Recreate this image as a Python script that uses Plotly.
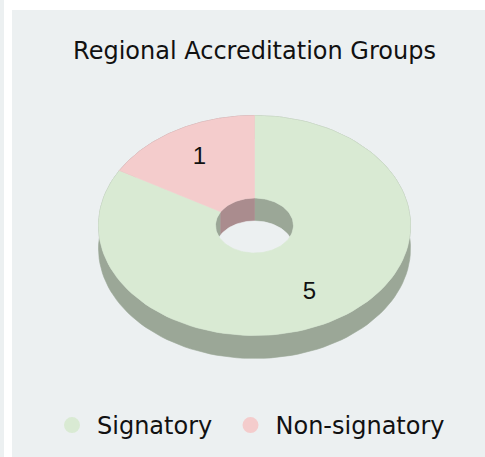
import numpy as np
import plotly.graph_objects as go

# ---- data ----
categories = ["Signatory", "Non-signatory"]
counts = [5, 1]
chart_title = "Regional Accreditation Groups"

# ---- style / layout constants ----
top_colors = ["#D9EAD3", "#F4CCCC"]
side_colors = ["#9BA797", "#AA8C8E"]
BG = "#ECF0F1"
W, H = 485, 457
CX, CY = 254.5, 225.5      # centre of donut top face (px)
RX, RY = 156.0, 110.0      # outer semi-axes (px)
INNER = 0.25               # inner radius fraction
DEPTH = 23.0               # 3D depth (px)
LABEL_R = 0.705            # data-label radius fraction
FONT = "DejaVu Sans, Arial, sans-serif"
LEGEND_X = [47.0, 225.5]   # left edge of each legend entry (px)


def arc(t1, t2, rx, ry, dy=0.0, n=120):
    t = np.radians(np.linspace(t1, t2, n))
    return CX + rx * np.sin(t), CY - ry * np.cos(t) + dy


def band(t1, t2, rx, ry):
    xa, ya = arc(t1, t2, rx, ry)
    xb, yb = arc(t2, t1, rx, ry, DEPTH)
    return np.r_[xa, xb, xa[:1]], np.r_[ya, yb, ya[:1]]


def ring_sector(t1, t2):
    xa, ya = arc(t1, t2, RX, RY)
    xb, yb = arc(t2, t1, RX * INNER, RY * INNER)
    return np.r_[xa, xb, xa[:1]], np.r_[ya, yb, ya[:1]]


total = float(sum(counts))
ends = np.cumsum(counts) / total * 360.0
starts = np.r_[0.0, ends[:-1]]

fig = go.Figure()


def poly(x, y, color):
    fig.add_trace(go.Scatter(
        x=x, y=y, mode="lines", fill="toself", fillcolor=color,
        line=dict(color=color, width=0.6), hoverinfo="skip", showlegend=False))


# outer side walls
for s, e, c in zip(starts, ends, side_colors):
    poly(*band(s, e, RX, RY), c)
# inner walls
for s, e, c in zip(starts, ends, side_colors):
    poly(*band(s, e, RX * INNER, RY * INNER), c)
# hole floor (background seen through)
fx, fy = arc(0, 360, RX * INNER, RY * INNER, DEPTH, 200)
poly(fx, fy, BG)
# top faces
for s, e, c in zip(starts, ends, top_colors):
    poly(*ring_sector(s, e), c)

# data labels
mids = np.radians((starts + ends) / 2.0)
fig.add_trace(go.Scatter(
    x=CX + RX * LABEL_R * np.sin(mids),
    y=CY - RY * LABEL_R * np.cos(mids),
    mode="text", text=[str(v) for v in counts],
    textfont=dict(family="Arial, sans-serif", size=24, color="#111111"),
    hoverinfo="skip", showlegend=False))

# legend entries (one legend per entry so spacing can be matched)
legend_ids = ["legend", "legend2"]
for name, c, lid in zip(categories, top_colors, legend_ids):
    fig.add_trace(go.Scatter(
        x=[None], y=[None], mode="markers", name=name, legend=lid,
        marker=dict(symbol="circle", size=21, color=c)))

legend_style = dict(orientation="h", xanchor="left",
                    y=1 - 425.5 / H, yanchor="middle",
                    font=dict(family=FONT, size=24, color="#111111"),
                    itemsizing="trace", itemwidth=40,
                    bgcolor="rgba(0,0,0,0)")

fig.update_layout(
    width=W, height=H,
    margin=dict(l=0, r=0, t=0, b=0),
    paper_bgcolor=BG, plot_bgcolor="rgba(0,0,0,0)",
    xaxis=dict(range=[0, W], visible=False, fixedrange=True),
    yaxis=dict(range=[H, 0], visible=False, fixedrange=True),
    title=dict(text=chart_title, x=CX / W, xanchor="center",
               y=1 - 50.5 / H, yanchor="middle",
               font=dict(family=FONT, size=24, color="#111111")),
    legend=dict(x=LEGEND_X[0] / W, **legend_style),
    legend2=dict(x=LEGEND_X[1] / W, **legend_style),
    shapes=[
        # white page frame around the grey panel
        dict(type="rect", xref="paper", yref="paper",
             x0=4.0 / W, x1=12.0 / W, y0=0, y1=1,
             fillcolor="white", line=dict(width=0), layer="below"),
        dict(type="rect", xref="paper", yref="paper",
             x0=4.0 / W, x1=1.05, y0=1 - 10.0 / H, y1=1.0,
             fillcolor="white", line=dict(width=0), layer="below"),
    ],
)

fig.write_html(
    "out.html",
    config={"displayModeBar": False},
    post_script="document.body.style.margin='0';"
                "document.body.style.background='%s';"
                "document.documentElement.style.background='%s';"
                "document.body.style.overflow='hidden';"
                "document.documentElement.style.overflow='hidden';" % (BG, BG))
